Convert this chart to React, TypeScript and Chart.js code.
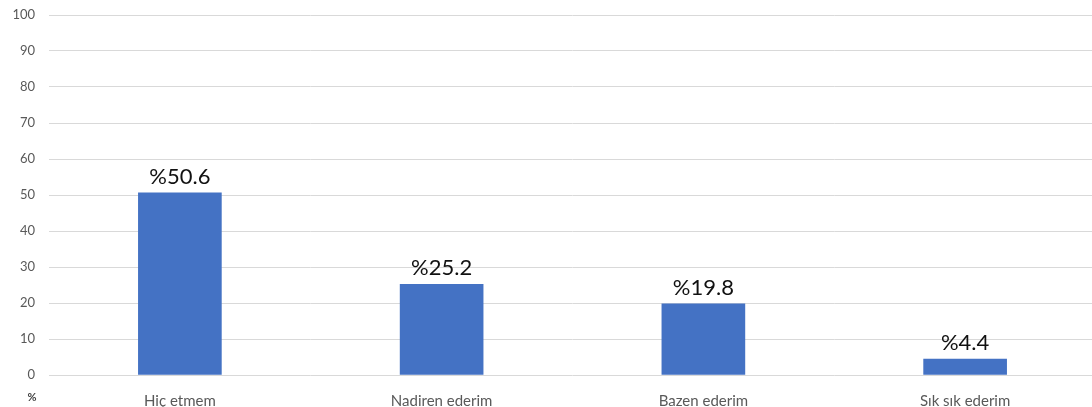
import React, { useEffect, useRef } from "react";
import { Chart, registerables } from "chart.js";

Chart.register(...registerables);

const categories = ["Hiç etmem", "Nadiren ederim", "Bazen ederim", "Sık sık ederim"];
const values = [50.6, 25.2, 19.8, 4.4];
const yTicks = [0, 10, 20, 30, 40, 50, 60, 70, 80, 90, 100];
const unitLabel = "%";
const FONT = "Lato, 'Open Sans', sans-serif";

const labelPlugin = {
  id: "barLabels",
  afterDatasetsDraw(chart: any) {
    const ctx = chart.ctx;
    const meta = chart.getDatasetMeta(0);
    ctx.save();
    ctx.font = `22px ${FONT}`;
    ctx.fillStyle = "#111111";
    ctx.textAlign = "center";
    ctx.textBaseline = "middle";
    meta.data.forEach((bar: any, i: number) => {
      ctx.fillText("%" + values[i].toFixed(1), bar.x, bar.y - 16);
    });
    const ys = chart.scales.y;
    ctx.font = `bold 11px ${FONT}`;
    ctx.fillStyle = "#404040";
    ctx.fillText(unitLabel, ys.left + 32, chart.chartArea.bottom + 22);
    ctx.restore();
  },
};

export default function App() {
  const ref = useRef<HTMLCanvasElement>(null);
  useEffect(() => {
    const chart = new Chart(ref.current!, {
      type: "bar",
      data: {
        labels: categories,
        datasets: [
          {
            data: values,
            backgroundColor: "#4472C4",
            barThickness: 83,
          },
        ],
      },
      options: {
        animation: false,
        responsive: true,
        maintainAspectRatio: false,
        layout: { padding: { top: 15, right: 0, left: 0, bottom: 0 } },
        plugins: { legend: { display: false }, tooltip: { enabled: false } },
        scales: {
          x: {
            grid: { display: false },
            border: { display: false },
            ticks: { color: "#595959", font: { family: FONT, size: 15 }, padding: 9 },
            afterFit: (s: any) => {
              s.height = 32;
            },
          },
          y: {
            min: 0,
            max: 100,
            afterBuildTicks: (s: any) => {
              s.ticks = yTicks.map((v) => ({ value: v }));
            },
            grid: { color: "#d9d9d9", lineWidth: 1, drawTicks: false },
            border: { display: false },
            ticks: { color: "#595959", font: { family: FONT, size: 13 }, padding: 14 },
            afterFit: (s: any) => {
              s.width = 49;
              s.paddingTop = 0;
              s.paddingBottom = 0;
            },
          },
        },
      },
      plugins: [labelPlugin],
    });
    return () => chart.destroy();
  }, []);
  return (
    <div style={{ position: "absolute", left: 0, top: 0, width: 1092, height: 407, overflow: "hidden" }}>
      <div style={{ position: "relative", width: 1096, height: 407 }}>
        <canvas ref={ref} />
      </div>
    </div>
  );
}
